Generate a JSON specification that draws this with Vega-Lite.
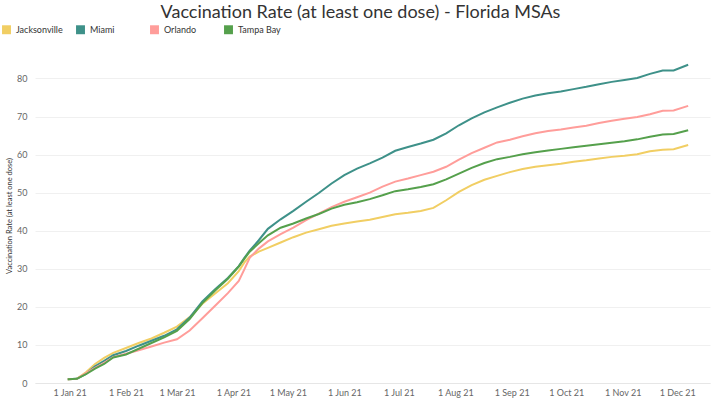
{
  "$schema": "https://vega.github.io/schema/vega-lite/v6.json",
  "autosize": "none",
  "padding": {"left": 35, "top": 48, "right": 10, "bottom": 16},
  "width": 675,
  "height": 335,
  "background": "white",
  "title": {
    "text": "Vaccination Rate (at least one dose) - Florida MSAs",
    "font": "Lato",
    "fontSize": 18,
    "fontWeight": "normal",
    "color": "#333333",
    "anchor": "middle",
    "dx": -12,
    "offset": 3
  },
  "data": {
    "values": [
      {"date": "2020-12-31T00:00:00", "msa": "Jacksonville", "rate": 1.0},
      {"date": "2021-01-05T00:00:00", "msa": "Jacksonville", "rate": 1.1},
      {"date": "2021-01-10T00:00:00", "msa": "Jacksonville", "rate": 2.8},
      {"date": "2021-01-15T00:00:00", "msa": "Jacksonville", "rate": 5.0},
      {"date": "2021-01-20T00:00:00", "msa": "Jacksonville", "rate": 6.6},
      {"date": "2021-01-25T00:00:00", "msa": "Jacksonville", "rate": 7.9},
      {"date": "2021-02-01T00:00:00", "msa": "Jacksonville", "rate": 9.2},
      {"date": "2021-02-08T00:00:00", "msa": "Jacksonville", "rate": 10.5},
      {"date": "2021-02-15T00:00:00", "msa": "Jacksonville", "rate": 11.7},
      {"date": "2021-02-22T00:00:00", "msa": "Jacksonville", "rate": 13.2},
      {"date": "2021-03-01T00:00:00", "msa": "Jacksonville", "rate": 14.8},
      {"date": "2021-03-08T00:00:00", "msa": "Jacksonville", "rate": 17.3},
      {"date": "2021-03-15T00:00:00", "msa": "Jacksonville", "rate": 20.8},
      {"date": "2021-03-22T00:00:00", "msa": "Jacksonville", "rate": 23.5},
      {"date": "2021-03-29T00:00:00", "msa": "Jacksonville", "rate": 26.2},
      {"date": "2021-04-04T00:00:00", "msa": "Jacksonville", "rate": 29.4},
      {"date": "2021-04-07T00:00:00", "msa": "Jacksonville", "rate": 31.6},
      {"date": "2021-04-10T00:00:00", "msa": "Jacksonville", "rate": 33.2},
      {"date": "2021-04-15T00:00:00", "msa": "Jacksonville", "rate": 34.5},
      {"date": "2021-04-20T00:00:00", "msa": "Jacksonville", "rate": 35.5},
      {"date": "2021-04-27T00:00:00", "msa": "Jacksonville", "rate": 36.9},
      {"date": "2021-05-04T00:00:00", "msa": "Jacksonville", "rate": 38.3},
      {"date": "2021-05-11T00:00:00", "msa": "Jacksonville", "rate": 39.5},
      {"date": "2021-05-18T00:00:00", "msa": "Jacksonville", "rate": 40.4},
      {"date": "2021-05-25T00:00:00", "msa": "Jacksonville", "rate": 41.3},
      {"date": "2021-06-01T00:00:00", "msa": "Jacksonville", "rate": 41.9},
      {"date": "2021-06-08T00:00:00", "msa": "Jacksonville", "rate": 42.4},
      {"date": "2021-06-15T00:00:00", "msa": "Jacksonville", "rate": 42.9},
      {"date": "2021-06-22T00:00:00", "msa": "Jacksonville", "rate": 43.6},
      {"date": "2021-06-29T00:00:00", "msa": "Jacksonville", "rate": 44.3},
      {"date": "2021-07-06T00:00:00", "msa": "Jacksonville", "rate": 44.7},
      {"date": "2021-07-13T00:00:00", "msa": "Jacksonville", "rate": 45.2},
      {"date": "2021-07-20T00:00:00", "msa": "Jacksonville", "rate": 46.0},
      {"date": "2021-07-27T00:00:00", "msa": "Jacksonville", "rate": 48.0},
      {"date": "2021-08-03T00:00:00", "msa": "Jacksonville", "rate": 50.2},
      {"date": "2021-08-10T00:00:00", "msa": "Jacksonville", "rate": 52.0},
      {"date": "2021-08-17T00:00:00", "msa": "Jacksonville", "rate": 53.4},
      {"date": "2021-08-24T00:00:00", "msa": "Jacksonville", "rate": 54.4},
      {"date": "2021-08-31T00:00:00", "msa": "Jacksonville", "rate": 55.4},
      {"date": "2021-09-07T00:00:00", "msa": "Jacksonville", "rate": 56.2},
      {"date": "2021-09-14T00:00:00", "msa": "Jacksonville", "rate": 56.8},
      {"date": "2021-09-21T00:00:00", "msa": "Jacksonville", "rate": 57.2},
      {"date": "2021-09-28T00:00:00", "msa": "Jacksonville", "rate": 57.6},
      {"date": "2021-10-05T00:00:00", "msa": "Jacksonville", "rate": 58.1},
      {"date": "2021-10-12T00:00:00", "msa": "Jacksonville", "rate": 58.5},
      {"date": "2021-10-19T00:00:00", "msa": "Jacksonville", "rate": 59.0},
      {"date": "2021-10-26T00:00:00", "msa": "Jacksonville", "rate": 59.4},
      {"date": "2021-11-02T00:00:00", "msa": "Jacksonville", "rate": 59.7},
      {"date": "2021-11-09T00:00:00", "msa": "Jacksonville", "rate": 60.1},
      {"date": "2021-11-16T00:00:00", "msa": "Jacksonville", "rate": 60.9},
      {"date": "2021-11-23T00:00:00", "msa": "Jacksonville", "rate": 61.3},
      {"date": "2021-11-29T00:00:00", "msa": "Jacksonville", "rate": 61.4},
      {"date": "2021-12-07T00:00:00", "msa": "Jacksonville", "rate": 62.5},

      {"date": "2020-12-31T00:00:00", "msa": "Miami", "rate": 1.0},
      {"date": "2021-01-05T00:00:00", "msa": "Miami", "rate": 1.1},
      {"date": "2021-01-10T00:00:00", "msa": "Miami", "rate": 2.4},
      {"date": "2021-01-15T00:00:00", "msa": "Miami", "rate": 4.4},
      {"date": "2021-01-20T00:00:00", "msa": "Miami", "rate": 5.8},
      {"date": "2021-01-25T00:00:00", "msa": "Miami", "rate": 7.3},
      {"date": "2021-02-01T00:00:00", "msa": "Miami", "rate": 8.4},
      {"date": "2021-02-08T00:00:00", "msa": "Miami", "rate": 9.8},
      {"date": "2021-02-15T00:00:00", "msa": "Miami", "rate": 11.1},
      {"date": "2021-02-22T00:00:00", "msa": "Miami", "rate": 12.4},
      {"date": "2021-03-01T00:00:00", "msa": "Miami", "rate": 14.1},
      {"date": "2021-03-08T00:00:00", "msa": "Miami", "rate": 17.2},
      {"date": "2021-03-15T00:00:00", "msa": "Miami", "rate": 21.4},
      {"date": "2021-03-22T00:00:00", "msa": "Miami", "rate": 24.6},
      {"date": "2021-03-29T00:00:00", "msa": "Miami", "rate": 27.6},
      {"date": "2021-04-04T00:00:00", "msa": "Miami", "rate": 30.7},
      {"date": "2021-04-07T00:00:00", "msa": "Miami", "rate": 32.8},
      {"date": "2021-04-10T00:00:00", "msa": "Miami", "rate": 34.8},
      {"date": "2021-04-15T00:00:00", "msa": "Miami", "rate": 37.5},
      {"date": "2021-04-20T00:00:00", "msa": "Miami", "rate": 40.5},
      {"date": "2021-04-27T00:00:00", "msa": "Miami", "rate": 43.0},
      {"date": "2021-05-04T00:00:00", "msa": "Miami", "rate": 45.2},
      {"date": "2021-05-11T00:00:00", "msa": "Miami", "rate": 47.6},
      {"date": "2021-05-18T00:00:00", "msa": "Miami", "rate": 49.9},
      {"date": "2021-05-25T00:00:00", "msa": "Miami", "rate": 52.4},
      {"date": "2021-06-01T00:00:00", "msa": "Miami", "rate": 54.6},
      {"date": "2021-06-08T00:00:00", "msa": "Miami", "rate": 56.3},
      {"date": "2021-06-15T00:00:00", "msa": "Miami", "rate": 57.7},
      {"date": "2021-06-22T00:00:00", "msa": "Miami", "rate": 59.2},
      {"date": "2021-06-29T00:00:00", "msa": "Miami", "rate": 61.0},
      {"date": "2021-07-06T00:00:00", "msa": "Miami", "rate": 62.0},
      {"date": "2021-07-13T00:00:00", "msa": "Miami", "rate": 62.9},
      {"date": "2021-07-20T00:00:00", "msa": "Miami", "rate": 63.9},
      {"date": "2021-07-27T00:00:00", "msa": "Miami", "rate": 65.6},
      {"date": "2021-08-03T00:00:00", "msa": "Miami", "rate": 67.7},
      {"date": "2021-08-10T00:00:00", "msa": "Miami", "rate": 69.5},
      {"date": "2021-08-17T00:00:00", "msa": "Miami", "rate": 71.1},
      {"date": "2021-08-24T00:00:00", "msa": "Miami", "rate": 72.4},
      {"date": "2021-08-31T00:00:00", "msa": "Miami", "rate": 73.6},
      {"date": "2021-09-07T00:00:00", "msa": "Miami", "rate": 74.7},
      {"date": "2021-09-14T00:00:00", "msa": "Miami", "rate": 75.5},
      {"date": "2021-09-21T00:00:00", "msa": "Miami", "rate": 76.1},
      {"date": "2021-09-28T00:00:00", "msa": "Miami", "rate": 76.6},
      {"date": "2021-10-05T00:00:00", "msa": "Miami", "rate": 77.2},
      {"date": "2021-10-12T00:00:00", "msa": "Miami", "rate": 77.8},
      {"date": "2021-10-19T00:00:00", "msa": "Miami", "rate": 78.5},
      {"date": "2021-10-26T00:00:00", "msa": "Miami", "rate": 79.1},
      {"date": "2021-11-02T00:00:00", "msa": "Miami", "rate": 79.6},
      {"date": "2021-11-09T00:00:00", "msa": "Miami", "rate": 80.1},
      {"date": "2021-11-16T00:00:00", "msa": "Miami", "rate": 81.2},
      {"date": "2021-11-23T00:00:00", "msa": "Miami", "rate": 82.1},
      {"date": "2021-11-29T00:00:00", "msa": "Miami", "rate": 82.1},
      {"date": "2021-12-07T00:00:00", "msa": "Miami", "rate": 83.6},

      {"date": "2020-12-31T00:00:00", "msa": "Orlando", "rate": 1.0},
      {"date": "2021-01-05T00:00:00", "msa": "Orlando", "rate": 1.1},
      {"date": "2021-01-10T00:00:00", "msa": "Orlando", "rate": 2.6},
      {"date": "2021-01-15T00:00:00", "msa": "Orlando", "rate": 4.0},
      {"date": "2021-01-20T00:00:00", "msa": "Orlando", "rate": 5.3},
      {"date": "2021-01-25T00:00:00", "msa": "Orlando", "rate": 6.8},
      {"date": "2021-02-01T00:00:00", "msa": "Orlando", "rate": 7.7},
      {"date": "2021-02-08T00:00:00", "msa": "Orlando", "rate": 8.6},
      {"date": "2021-02-15T00:00:00", "msa": "Orlando", "rate": 9.6},
      {"date": "2021-02-22T00:00:00", "msa": "Orlando", "rate": 10.6},
      {"date": "2021-03-01T00:00:00", "msa": "Orlando", "rate": 11.5},
      {"date": "2021-03-08T00:00:00", "msa": "Orlando", "rate": 13.8},
      {"date": "2021-03-15T00:00:00", "msa": "Orlando", "rate": 17.0},
      {"date": "2021-03-22T00:00:00", "msa": "Orlando", "rate": 20.3},
      {"date": "2021-03-29T00:00:00", "msa": "Orlando", "rate": 23.6},
      {"date": "2021-04-04T00:00:00", "msa": "Orlando", "rate": 26.8},
      {"date": "2021-04-07T00:00:00", "msa": "Orlando", "rate": 29.8},
      {"date": "2021-04-10T00:00:00", "msa": "Orlando", "rate": 32.9},
      {"date": "2021-04-15T00:00:00", "msa": "Orlando", "rate": 35.3},
      {"date": "2021-04-20T00:00:00", "msa": "Orlando", "rate": 37.2},
      {"date": "2021-04-27T00:00:00", "msa": "Orlando", "rate": 39.1},
      {"date": "2021-05-04T00:00:00", "msa": "Orlando", "rate": 40.8},
      {"date": "2021-05-11T00:00:00", "msa": "Orlando", "rate": 42.8},
      {"date": "2021-05-18T00:00:00", "msa": "Orlando", "rate": 44.5},
      {"date": "2021-05-25T00:00:00", "msa": "Orlando", "rate": 46.2},
      {"date": "2021-06-01T00:00:00", "msa": "Orlando", "rate": 47.6},
      {"date": "2021-06-08T00:00:00", "msa": "Orlando", "rate": 48.8},
      {"date": "2021-06-15T00:00:00", "msa": "Orlando", "rate": 50.0},
      {"date": "2021-06-22T00:00:00", "msa": "Orlando", "rate": 51.6},
      {"date": "2021-06-29T00:00:00", "msa": "Orlando", "rate": 52.9},
      {"date": "2021-07-06T00:00:00", "msa": "Orlando", "rate": 53.7},
      {"date": "2021-07-13T00:00:00", "msa": "Orlando", "rate": 54.6},
      {"date": "2021-07-20T00:00:00", "msa": "Orlando", "rate": 55.5},
      {"date": "2021-07-27T00:00:00", "msa": "Orlando", "rate": 56.8},
      {"date": "2021-08-03T00:00:00", "msa": "Orlando", "rate": 58.7},
      {"date": "2021-08-10T00:00:00", "msa": "Orlando", "rate": 60.4},
      {"date": "2021-08-17T00:00:00", "msa": "Orlando", "rate": 61.8},
      {"date": "2021-08-24T00:00:00", "msa": "Orlando", "rate": 63.2},
      {"date": "2021-08-31T00:00:00", "msa": "Orlando", "rate": 63.9},
      {"date": "2021-09-07T00:00:00", "msa": "Orlando", "rate": 64.8},
      {"date": "2021-09-14T00:00:00", "msa": "Orlando", "rate": 65.6},
      {"date": "2021-09-21T00:00:00", "msa": "Orlando", "rate": 66.2},
      {"date": "2021-09-28T00:00:00", "msa": "Orlando", "rate": 66.6},
      {"date": "2021-10-05T00:00:00", "msa": "Orlando", "rate": 67.1},
      {"date": "2021-10-12T00:00:00", "msa": "Orlando", "rate": 67.6},
      {"date": "2021-10-19T00:00:00", "msa": "Orlando", "rate": 68.3},
      {"date": "2021-10-26T00:00:00", "msa": "Orlando", "rate": 68.9},
      {"date": "2021-11-02T00:00:00", "msa": "Orlando", "rate": 69.4},
      {"date": "2021-11-09T00:00:00", "msa": "Orlando", "rate": 69.9},
      {"date": "2021-11-16T00:00:00", "msa": "Orlando", "rate": 70.6},
      {"date": "2021-11-23T00:00:00", "msa": "Orlando", "rate": 71.5},
      {"date": "2021-11-29T00:00:00", "msa": "Orlando", "rate": 71.6},
      {"date": "2021-12-07T00:00:00", "msa": "Orlando", "rate": 72.8},

      {"date": "2020-12-31T00:00:00", "msa": "Tampa Bay", "rate": 1.0},
      {"date": "2021-01-05T00:00:00", "msa": "Tampa Bay", "rate": 1.1},
      {"date": "2021-01-10T00:00:00", "msa": "Tampa Bay", "rate": 2.3},
      {"date": "2021-01-15T00:00:00", "msa": "Tampa Bay", "rate": 3.8},
      {"date": "2021-01-20T00:00:00", "msa": "Tampa Bay", "rate": 5.0},
      {"date": "2021-01-25T00:00:00", "msa": "Tampa Bay", "rate": 6.7},
      {"date": "2021-02-01T00:00:00", "msa": "Tampa Bay", "rate": 7.5},
      {"date": "2021-02-08T00:00:00", "msa": "Tampa Bay", "rate": 9.0},
      {"date": "2021-02-15T00:00:00", "msa": "Tampa Bay", "rate": 10.5},
      {"date": "2021-02-22T00:00:00", "msa": "Tampa Bay", "rate": 12.0},
      {"date": "2021-03-01T00:00:00", "msa": "Tampa Bay", "rate": 13.7},
      {"date": "2021-03-08T00:00:00", "msa": "Tampa Bay", "rate": 16.8},
      {"date": "2021-03-15T00:00:00", "msa": "Tampa Bay", "rate": 21.0},
      {"date": "2021-03-22T00:00:00", "msa": "Tampa Bay", "rate": 24.3},
      {"date": "2021-03-29T00:00:00", "msa": "Tampa Bay", "rate": 27.4},
      {"date": "2021-04-04T00:00:00", "msa": "Tampa Bay", "rate": 30.6},
      {"date": "2021-04-07T00:00:00", "msa": "Tampa Bay", "rate": 32.6},
      {"date": "2021-04-10T00:00:00", "msa": "Tampa Bay", "rate": 34.5},
      {"date": "2021-04-15T00:00:00", "msa": "Tampa Bay", "rate": 36.7},
      {"date": "2021-04-20T00:00:00", "msa": "Tampa Bay", "rate": 38.8},
      {"date": "2021-04-27T00:00:00", "msa": "Tampa Bay", "rate": 40.8},
      {"date": "2021-05-04T00:00:00", "msa": "Tampa Bay", "rate": 41.9},
      {"date": "2021-05-11T00:00:00", "msa": "Tampa Bay", "rate": 43.2},
      {"date": "2021-05-18T00:00:00", "msa": "Tampa Bay", "rate": 44.4},
      {"date": "2021-05-25T00:00:00", "msa": "Tampa Bay", "rate": 45.8},
      {"date": "2021-06-01T00:00:00", "msa": "Tampa Bay", "rate": 46.8},
      {"date": "2021-06-08T00:00:00", "msa": "Tampa Bay", "rate": 47.5},
      {"date": "2021-06-15T00:00:00", "msa": "Tampa Bay", "rate": 48.3},
      {"date": "2021-06-22T00:00:00", "msa": "Tampa Bay", "rate": 49.3},
      {"date": "2021-06-29T00:00:00", "msa": "Tampa Bay", "rate": 50.4},
      {"date": "2021-07-06T00:00:00", "msa": "Tampa Bay", "rate": 50.9},
      {"date": "2021-07-13T00:00:00", "msa": "Tampa Bay", "rate": 51.5},
      {"date": "2021-07-20T00:00:00", "msa": "Tampa Bay", "rate": 52.2},
      {"date": "2021-07-27T00:00:00", "msa": "Tampa Bay", "rate": 53.5},
      {"date": "2021-08-03T00:00:00", "msa": "Tampa Bay", "rate": 55.0},
      {"date": "2021-08-10T00:00:00", "msa": "Tampa Bay", "rate": 56.5},
      {"date": "2021-08-17T00:00:00", "msa": "Tampa Bay", "rate": 57.8},
      {"date": "2021-08-24T00:00:00", "msa": "Tampa Bay", "rate": 58.8},
      {"date": "2021-08-31T00:00:00", "msa": "Tampa Bay", "rate": 59.4},
      {"date": "2021-09-07T00:00:00", "msa": "Tampa Bay", "rate": 60.1},
      {"date": "2021-09-14T00:00:00", "msa": "Tampa Bay", "rate": 60.6},
      {"date": "2021-09-21T00:00:00", "msa": "Tampa Bay", "rate": 61.1},
      {"date": "2021-09-28T00:00:00", "msa": "Tampa Bay", "rate": 61.5},
      {"date": "2021-10-05T00:00:00", "msa": "Tampa Bay", "rate": 61.9},
      {"date": "2021-10-12T00:00:00", "msa": "Tampa Bay", "rate": 62.3},
      {"date": "2021-10-19T00:00:00", "msa": "Tampa Bay", "rate": 62.7},
      {"date": "2021-10-26T00:00:00", "msa": "Tampa Bay", "rate": 63.1},
      {"date": "2021-11-02T00:00:00", "msa": "Tampa Bay", "rate": 63.5},
      {"date": "2021-11-09T00:00:00", "msa": "Tampa Bay", "rate": 64.0},
      {"date": "2021-11-16T00:00:00", "msa": "Tampa Bay", "rate": 64.7},
      {"date": "2021-11-23T00:00:00", "msa": "Tampa Bay", "rate": 65.3},
      {"date": "2021-11-29T00:00:00", "msa": "Tampa Bay", "rate": 65.4},
      {"date": "2021-12-07T00:00:00", "msa": "Tampa Bay", "rate": 66.4}
    ]
  },
  "mark": {"type": "line", "strokeWidth": 2, "interpolate": "linear"},
  "encoding": {
    "x": {
      "field": "date",
      "type": "temporal",
      "scale": {"domain": [{"year": 2020, "month": 12, "date": 13}, {"year": 2021, "month": 12, "date": 19}]},
      "axis": {
        "title": null,
        "format": "%-d %b %y",
        "tickCount": {"interval": "month", "step": 1},
        "grid": false,
        "ticks": false,
        "domain": true,
        "domainColor": "#e6e6e6",
        "labelFont": "Lato",
        "labelFontSize": 9,
        "labelColor": "#666666",
        "labelPadding": 5,
        "labelOverlap": false
      }
    },
    "y": {
      "field": "rate",
      "type": "quantitative",
      "scale": {"domain": [0, 88], "nice": false},
      "axis": {
        "title": "Vaccination Rate (at least one dose)",
        "titleFont": "Lato",
        "titleFontSize": 7.5,
        "titleFontWeight": "normal",
        "titleColor": "#333333",
        "titlePadding": 3,
        "values": [0, 10, 20, 30, 40, 50, 60, 70, 80],
        "domain": false,
        "ticks": false,
        "grid": true,
        "gridColor": "#f0f0f0",
        "labelFont": "Lato",
        "labelFontSize": 9,
        "labelColor": "#666666",
        "labelPadding": 8
      }
    },
    "color": {
      "field": "msa",
      "type": "nominal",
      "scale": {
        "domain": ["Jacksonville", "Miami", "Orlando", "Tampa Bay"],
        "range": ["#F1CE63", "#3E9189", "#FF9D9A", "#55A04C"]
      },
      "legend": {
        "title": null,
        "orient": "none",
        "legendX": -33,
        "legendY": -23,
        "direction": "horizontal",
        "columns": 4,
        "gridAlign": "all",
        "columnPadding": 13,
        "symbolType": "square",
        "symbolSize": 80,
        "symbolStrokeWidth": 0,
        "symbolOpacity": 1,
        "labelFont": "Lato",
        "labelFontSize": 9,
        "labelColor": "#333333",
        "labelOffset": 5,
        "encode": {
          "symbols": {
            "update": {
              "fill": {"scale": "color", "field": "value"},
              "fillOpacity": {"value": 1}
            }
          }
        }
      }
    }
  },
  "config": {"view": {"stroke": null}}
}
